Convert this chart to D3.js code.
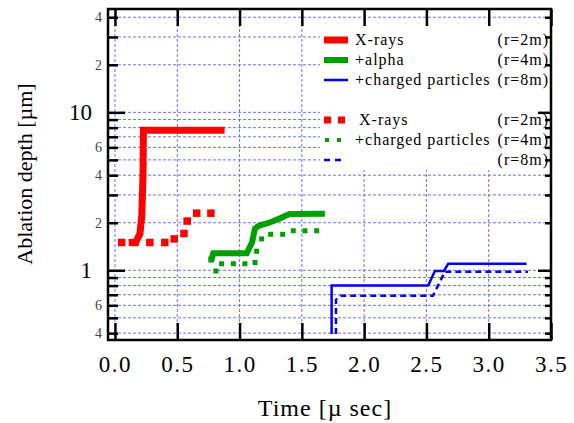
<!DOCTYPE html>
<html><head><meta charset="utf-8">
<script src="https://cdnjs.cloudflare.com/ajax/libs/d3/7.8.5/d3.min.js"></script>
<style>
html,body{margin:0;padding:0;background:#fff;}
svg{display:block;}
svg text{font-family:"Liberation Serif","Times New Roman",serif !important;}
</style></head>
<body>
<svg id="c" width="574" height="423"></svg>
<script>
// ---- data (time in µs, depth in µm) ----
const redSolidT = [0.11, 0.165, 0.20, 0.215, 0.225, 0.228, 0.88];
const redSolidV = [1.5, 1.5, 1.7, 2.2, 4.0, 7.7, 7.7];
const redDotT = [0.054, 0.16, 0.28, 0.40, 0.476, 0.554, 0.58, 0.656, 0.77];
const redDotV = [1.50, 1.50, 1.50, 1.50, 1.58, 1.71, 2.05, 2.30, 2.30];
const greenSolidT = [0.749, 0.775, 0.789, 1.057, 1.10, 1.124, 1.15, 1.177, 1.22, 1.258, 1.29, 1.324, 1.36, 1.404, 1.685];
const greenSolidV = [1.17, 1.17, 1.28, 1.28, 1.5, 1.84, 1.90, 1.94, 1.98, 2.03, 2.08, 2.13, 2.2, 2.27, 2.28];
const greenDotT = [0.81, 0.856, 0.95, 1.043, 1.124, 1.137, 1.177, 1.25, 1.346, 1.431, 1.525, 1.619];
const greenDotV = [0.99, 1.10, 1.10, 1.10, 1.12, 1.32, 1.58, 1.69, 1.69, 1.78, 1.78, 1.78];
const blueSolidT = [1.739, 1.739, 2.514, 2.568, 2.64, 2.675, 3.304];
const blueSolidV = [0.395, 0.80, 0.80, 0.99, 0.99, 1.10, 1.10];
const blueDashT = [1.774, 1.774, 1.811, 2.552, 2.60, 2.648, 3.315];
const blueDashV = [0.395, 0.65, 0.69, 0.69, 0.82, 0.98, 0.98];

const xTicks = [0, 0.5, 1.0, 1.5, 2.0, 2.5, 3.0, 3.5];
const yMinor = [0.4,0.5,0.6,0.7,0.8,0.9,2,3,4,5,6,7,8,9,20,30,40];
const yMajor = [1, 10];
const yMinorLabels = {0.4:"4", 0.6:"6", 2:"2", 4:"4", 6:"6", 20:"2", 40:"4"};
const yMajorLabels = {1:"1", 10:"10"};

const legendSolid = ["X-rays", "+alpha", "+charged particles"];
const legendDot = ["X-rays", "+charged particles", ""];
const legendR = ["(r=2m)", "(r=4m)", "(r=8m)"];

// ---- layout ----
const L=108, R=551, T=9, B=340;
const svg = d3.select("#c");
const x = d3.scaleLinear().domain([-0.056, 3.5]).range([L, R]);
const y = d3.scaleLog().domain([0.362, 45.1]).range([B, T]);

const red="#ff0000", green="#00a000", blue="#0000ff", grid="#6f6fff";

// grid
const g = svg.append("g");
g.selectAll("line.v").data(xTicks).join("line")
  .attr("x1", d=>x(d)).attr("x2", d=>x(d)).attr("y1", T).attr("y2", B)
  .attr("stroke", grid).attr("stroke-width", 1).attr("stroke-dasharray", "3,2");
g.selectAll("line.h").data(yMinor.concat(yMajor)).join("line")
  .attr("x1", L).attr("x2", R).attr("y1", d=>y(d)).attr("y2", d=>y(d))
  .attr("stroke", grid).attr("stroke-width", 1).attr("stroke-dasharray", "3,2");

// legend background
svg.append("rect").attr("x", 320).attr("y", 24).attr("width", 226).attr("height", 146).attr("fill", "#fff");

// series
const line = d3.line().x(d=>x(d[0])).y(d=>y(d[1]));
const zip = (a,b)=>a.map((v,i)=>[v,b[i]]);

svg.append("path").datum(zip(blueSolidT, blueSolidV)).attr("d", line)
  .attr("fill","none").attr("stroke", blue).attr("stroke-width", 2.5);
svg.append("path").datum(zip(blueDashT, blueDashV)).attr("d", line)
  .attr("fill","none").attr("stroke", blue).attr("stroke-width", 2.5).attr("stroke-dasharray","6,4");

svg.selectAll("rect.rd").data(zip(redDotT, redDotV)).join("rect")
  .attr("x", d=>x(d[0])-3.75).attr("y", d=>y(d[1])-3.75).attr("width", 7.5).attr("height", 7.5).attr("fill", red);
svg.append("path").datum(zip(redSolidT, redSolidV)).attr("d", line)
  .attr("fill","none").attr("stroke", red).attr("stroke-width", 7).attr("stroke-linejoin","miter");

svg.selectAll("rect.gd").data(zip(greenDotT, greenDotV)).join("rect")
  .attr("x", d=>x(d[0])-2.5).attr("y", d=>y(d[1])-2.5).attr("width", 5).attr("height", 5).attr("fill", green);
svg.append("path").datum(zip(greenSolidT, greenSolidV)).attr("d", line)
  .attr("fill","none").attr("stroke", green).attr("stroke-width", 6);

// legend
const lg = svg.append("g");
const rowY = [40, 60, 80, 120, 140, 160];
const solidW = [7, 6, 2.5];
const colors = [red, green, blue];
function ltext(xx, yy, t, anchor){
  return lg.append("text").attr("x",xx).attr("y",yy).attr("font-size",16)
    .attr("letter-spacing", 1).attr("text-anchor", anchor||"start").attr("fill","#000").text(t);
}
legendSolid.forEach((t,i)=>{
  lg.append("line").attr("x1",324).attr("x2",348).attr("y1",rowY[i]).attr("y2",rowY[i])
    .attr("stroke",colors[i]).attr("stroke-width",solidW[i]);
  ltext(355, rowY[i]+5, t);
  ltext(549, rowY[i]+5, legendR[i], "end");
});
legendDot.forEach((t,i)=>{
  const yy=rowY[i+3];
  if(i===0){
    [324,338].forEach(xx=>lg.append("rect").attr("x",xx).attr("y",yy-3.5).attr("width",7).attr("height",7).attr("fill",red));
  } else if(i===1){
    [325,337].forEach(xx=>lg.append("rect").attr("x",xx).attr("y",yy-2).attr("width",4).attr("height",4).attr("fill",green));
  } else {
    lg.append("line").attr("x1",324).attr("x2",342).attr("y1",yy).attr("y2",yy)
      .attr("stroke",blue).attr("stroke-width",2.5).attr("stroke-dasharray","6,5");
  }
  ltext(i===0?359:355, yy+5, t);
  ltext(549, yy+5, legendR[i], "end");
});

// axes
const ax = svg.append("g");
const bottomAx = ax.append("g").attr("transform",`translate(0,${B})`)
  .call(d3.axisBottom(x).tickValues(xTicks).tickFormat(d3.format(".1f")).tickSizeInner(-17).tickSizeOuter(0).tickPadding(16));
ax.append("g").attr("transform",`translate(0,${T})`)
  .call(d3.axisTop(x).tickValues(xTicks).tickFormat("").tickSizeInner(-17).tickSizeOuter(0));
const yMinAx = ax.append("g").attr("transform",`translate(${L},0)`)
  .call(d3.axisLeft(y).tickValues(yMinor).tickFormat(d=>yMinorLabels[d]||"").tickSizeInner(-10).tickSizeOuter(0).tickPadding(6));
const yMajAx = ax.append("g").attr("transform",`translate(${L},0)`)
  .call(d3.axisLeft(y).tickValues(yMajor).tickFormat(d=>yMajorLabels[d]).tickSizeInner(-17).tickSizeOuter(0).tickPadding(16));
ax.append("g").attr("transform",`translate(${R},0)`)
  .call(d3.axisRight(y).tickValues(yMinor).tickFormat("").tickSizeInner(-6).tickSizeOuter(0));
ax.append("g").attr("transform",`translate(${R},0)`)
  .call(d3.axisRight(y).tickValues(yMajor).tickFormat("").tickSizeInner(-13).tickSizeOuter(0));
ax.selectAll(".domain").remove();
ax.selectAll("g").attr("font-family", null);
ax.selectAll(".tick line").attr("stroke","#000").attr("stroke-width",2.5);
ax.selectAll("text").attr("fill","#000");
bottomAx.selectAll("text").attr("font-size",23).attr("letter-spacing",1.5);
yMinAx.selectAll("text").attr("font-size",14).attr("fill","#444");
yMajAx.selectAll("text").attr("font-size",23);

// frame
svg.append("rect").attr("x",L).attr("y",T).attr("width",R-L).attr("height",B-T)
  .attr("fill","none").attr("stroke","#000").attr("stroke-width",2.5);

// titles
svg.append("text").attr("x",325).attr("y",416).attr("text-anchor","middle").attr("font-size",24)
  .attr("letter-spacing",1).text("Time [µ sec]");
svg.append("text").attr("transform","translate(32,174) rotate(-90)").attr("text-anchor","middle").attr("font-size",22)
  .text("Ablation depth [µm]");
</script>
</body></html>
